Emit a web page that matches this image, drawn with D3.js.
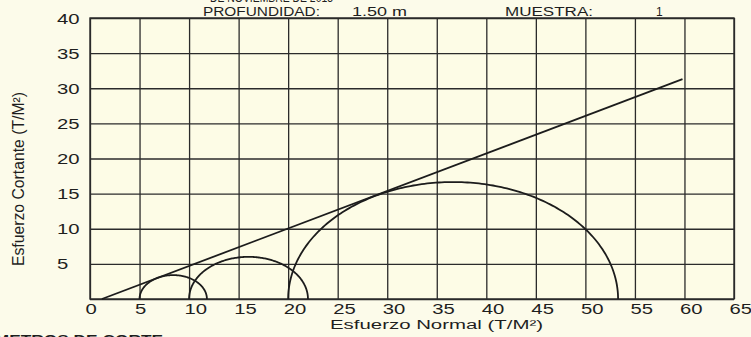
<!DOCTYPE html>
<html>
<head>
<meta charset="utf-8">
<script src="https://cdn.jsdelivr.net/npm/d3@7"></script>
<style>
  html, body { margin: 0; padding: 0; background: #fcfbea; }
  svg { display: block; }
  text { font-family: "Liberation Sans", Arial, sans-serif; fill: #1e1e1e; }
</style>
</head>
<body>
<svg id="chart" width="751" height="337"></svg>
<script>
// Mohr circles: minor / major principal stresses per test (T/M²)
const sigma3 = [5, 10, 20];
const sigma1 = [11.8, 22, 53.3];

// Failure envelope endpoints (normal stress, shear stress)
const envelopeSigma = [1.2, 59.8];
const envelopeTau = [0, 31.3];

// Axis ticks
const xTicks = [0, 5, 10, 15, 20, 25, 30, 35, 40, 45, 50, 55, 60, 65];
const yTicks = [5, 10, 15, 20, 25, 30, 35, 40];
const yGrid = [0, 5, 10, 15, 20, 25, 30, 35, 40];

const svg = d3.select("#chart");
const plotL = 90, plotR = 734, plotT = 18, plotB = 299;
const stretch = 1.45;

const x = d3.scaleLinear().domain([0, 65]).range([plotL, plotR]);
const y = d3.scaleLinear().domain([0, 40]).range([plotB, plotT]);

// faint plot tint
svg.append("rect")
  .attr("x", plotL).attr("y", plotT)
  .attr("width", plotR - plotL).attr("height", plotB - plotT)
  .attr("fill", "#fdfce6");

// header lines
const hdr = svg.append("g").attr("font-size", 12);
hdr.append("text").attr("x", 210).attr("y", 1.5)
  .attr("textLength", 123).attr("lengthAdjust", "spacingAndGlyphs")
  .text("DE NOVIEMBRE DE 2015");
hdr.append("text").attr("x", 203).attr("y", 16)
  .attr("textLength", 117).attr("lengthAdjust", "spacingAndGlyphs")
  .text("PROFUNDIDAD:");
hdr.append("text").attr("x", 352).attr("y", 16)
  .attr("textLength", 55).attr("lengthAdjust", "spacingAndGlyphs")
  .text("1.50 m");
hdr.append("text").attr("x", 505).attr("y", 16)
  .attr("textLength", 88).attr("lengthAdjust", "spacingAndGlyphs")
  .text("MUESTRA:");
hdr.append("text").attr("x", 656).attr("y", 16)
  .text("1");

// x axis with full-height grid lines
const gx = svg.append("g")
  .attr("transform", `translate(0,${plotB})`)
  .call(d3.axisBottom(x).tickValues(xTicks).tickSize(-(plotB - plotT)).tickPadding(0));
gx.select(".domain").remove();
gx.selectAll(".tick line").attr("stroke", "#2b2b2b").attr("stroke-width", 1.3);
gx.selectAll(".tick text")
  .attr("font-size", 14).attr("fill", "#1e1e1e")
  .attr("text-anchor", "start")
  .attr("dy", null)
  .attr("y", 15.5)
  .attr("x", -5 / stretch)
  .attr("transform", `scale(${stretch},1)`);

// y axis with full-width grid lines
const gy = svg.append("g")
  .attr("transform", `translate(${plotL},0)`)
  .call(d3.axisLeft(y).tickValues(yGrid).tickSize(-(plotR - plotL)).tickPadding(0));
gy.select(".domain").remove();
gy.selectAll(".tick line").attr("stroke", "#2b2b2b").attr("stroke-width", 1.3);
gy.selectAll(".tick text")
  .attr("font-size", 14).attr("fill", "#1e1e1e")
  .attr("text-anchor", "start")
  .attr("x", (57 - plotL) / stretch)
  .attr("dy", "0.36em")
  .attr("transform", `scale(${stretch},1)`)
  .text(d => yTicks.includes(d) ? d : "");

// frame
svg.append("rect")
  .attr("x", plotL).attr("y", plotT)
  .attr("width", plotR - plotL).attr("height", plotB - plotT)
  .attr("fill", "none").attr("stroke", "#2b2b2b").attr("stroke-width", 1.4);

// axis titles
svg.append("text")
  .attr("x", 330).attr("y", 328.5)
  .attr("font-size", 12.5)
  .attr("textLength", 213).attr("lengthAdjust", "spacingAndGlyphs")
  .text("Esfuerzo Normal (T/M²)");

svg.append("text")
  .attr("transform", "translate(24,266) rotate(-90) scale(1,1.25)")
  .attr("font-size", 13)
  .attr("textLength", 174).attr("lengthAdjust", "spacingAndGlyphs")
  .text("Esfuerzo Cortante (T/M²)");

// footer section heading (runs off the page edges)
svg.append("text")
  .attr("x", -53).attr("y", 344)
  .attr("font-size", 13).attr("font-weight", "bold")
  .attr("textLength", 216).attr("lengthAdjust", "spacingAndGlyphs")
  .text("PARAMETROS DE CORTE");

// Mohr semicircles, drawn in stress space through the scales
const arc = d3.line().x(p => x(p[0])).y(p => y(p[1]));
const circles = sigma3.map((s3, i) => ({ c: (s3 + sigma1[i]) / 2, r: (sigma1[i] - s3) / 2 }));
svg.append("g").selectAll("path")
  .data(circles)
  .join("path")
  .attr("fill", "none")
  .attr("stroke", "#1c1c1c")
  .attr("stroke-width", 1.8)
  .attr("d", d => arc(d3.range(0, 181).map(a => {
    const t = Math.PI * a / 180;
    return [d.c + d.r * Math.cos(t), d.r * Math.sin(t)];
  })));

// failure envelope
svg.append("path")
  .datum(envelopeSigma.map((s, i) => [s, envelopeTau[i]]))
  .attr("fill", "none")
  .attr("stroke", "#1c1c1c")
  .attr("stroke-width", 1.8)
  .attr("d", arc);
</script>
</body>
</html>
